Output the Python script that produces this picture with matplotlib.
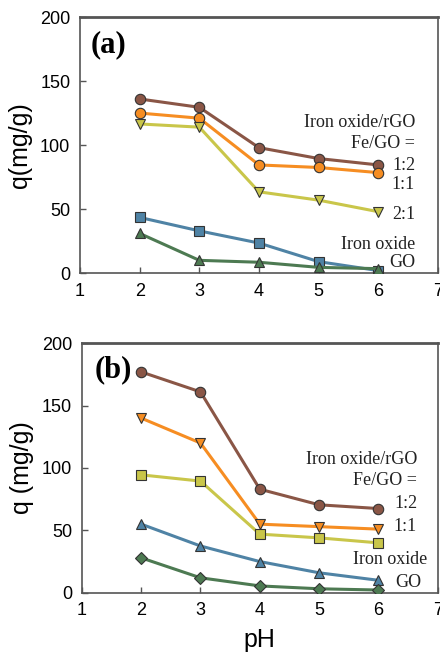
import matplotlib
matplotlib.use("Agg")
import matplotlib.pyplot as plt

# Data
ph = [2, 3, 4, 5, 6]

# (a)
a_12 = [136, 129.5, 98, 89.5, 84.5]
a_11 = [125, 121, 84.5, 82.5, 78.5]
a_21 = [116.5, 114, 63.5, 57, 48]
a_fe = [43.5, 33, 23.5, 9, 2]
a_go = [31, 10, 8.5, 4.5, 3.5]

# (b)
b_12 = [177, 161, 83, 70.5, 67.5]
b_11 = [140, 120, 55, 53, 51]
b_21 = [94.5, 89.5, 47, 44, 40]
b_fe = [55, 37.5, 25, 16, 10]
b_go = [28, 12, 5.5, 3.2, 2.2]

brown = "#8a5646"
orange = "#f68d22"
yellow = "#c9c64a"
blue = "#4f83a5"
green = "#4d7a52"
edge = "#333333"

fig = plt.figure(figsize=(4.4, 6.55), dpi=100)
ax1 = fig.add_axes([0.182, 0.583, 0.813, 0.391])
ax2 = fig.add_axes([0.186, 0.095, 0.809, 0.381])

sans = "Liberation Sans"
serif = "Liberation Serif"


def line(ax, y, color, marker, ms=7.5):
    ax.plot(ph, y, color=color, lw=2.2, marker=marker, ms=ms,
            markerfacecolor=color, markeredgecolor=edge, markeredgewidth=0.8,
            zorder=3)


def style(ax):
    ax.set_xlim(1, 7)
    ax.set_ylim(0, 200)
    ax.set_xticks(range(1, 8))
    ax.set_yticks(range(0, 201, 50))
    ax.tick_params(direction="in", length=4, width=1, color="#555555",
                   labelsize=13, pad=7)
    for lab in ax.get_xticklabels() + ax.get_yticklabels():
        lab.set_fontfamily(sans)
    for s in ax.spines.values():
        s.set_color("#555555")
        s.set_linewidth(1.2)
    ax.spines["top"].set_linewidth(2)


def note(ax, x, y, s):
    ax.text(x, y, s, ha="right", va="center", family=serif, fontsize=13,
            color="#222222")


# panel (a)
line(ax1, a_12, brown, "o")
line(ax1, a_11, orange, "o")
line(ax1, a_21, yellow, "v")
line(ax1, a_fe, blue, "s", 6.5)
line(ax1, a_go, green, "^")
style(ax1)
ax1.set_ylabel("q(mg/g)", family=sans, fontsize=18, labelpad=6)
ax1.text(1.18, 178, "(a)", family=serif, fontweight="bold", fontsize=22,
         va="center")
note(ax1, 6.62, 117.5, "Iron oxide/rGO")
note(ax1, 6.62, 101, "Fe/GO =")
note(ax1, 6.62, 84, "1:2")
note(ax1, 6.62, 69.5, "1:1")
note(ax1, 6.62, 45.5, "2:1")
note(ax1, 6.63, 22, "Iron oxide")
note(ax1, 6.62, 8.3, "GO")

# panel (b)
line(ax2, b_12, brown, "o")
line(ax2, b_11, orange, "v")
line(ax2, b_21, yellow, "s", 6.5)
line(ax2, b_fe, blue, "^")
line(ax2, b_go, green, "D", 6.5)
style(ax2)
ax2.set_ylabel("q (mg/g)", family=sans, fontsize=18, labelpad=6)
ax2.set_xlabel("pH", family=sans, fontsize=18, labelpad=6)
ax2.text(1.22, 179, "(b)", family=serif, fontweight="bold", fontsize=22,
         va="center")
note(ax2, 6.65, 107, "Iron oxide/rGO")
note(ax2, 6.65, 90, "Fe/GO =")
note(ax2, 6.65, 71.5, "1:2")
note(ax2, 6.65, 53.5, "1:1")
note(ax2, 6.83, 26.5, "Iron oxide")
note(ax2, 6.73, 8, "GO")

fig.savefig("out.png", dpi=100, facecolor="white")
